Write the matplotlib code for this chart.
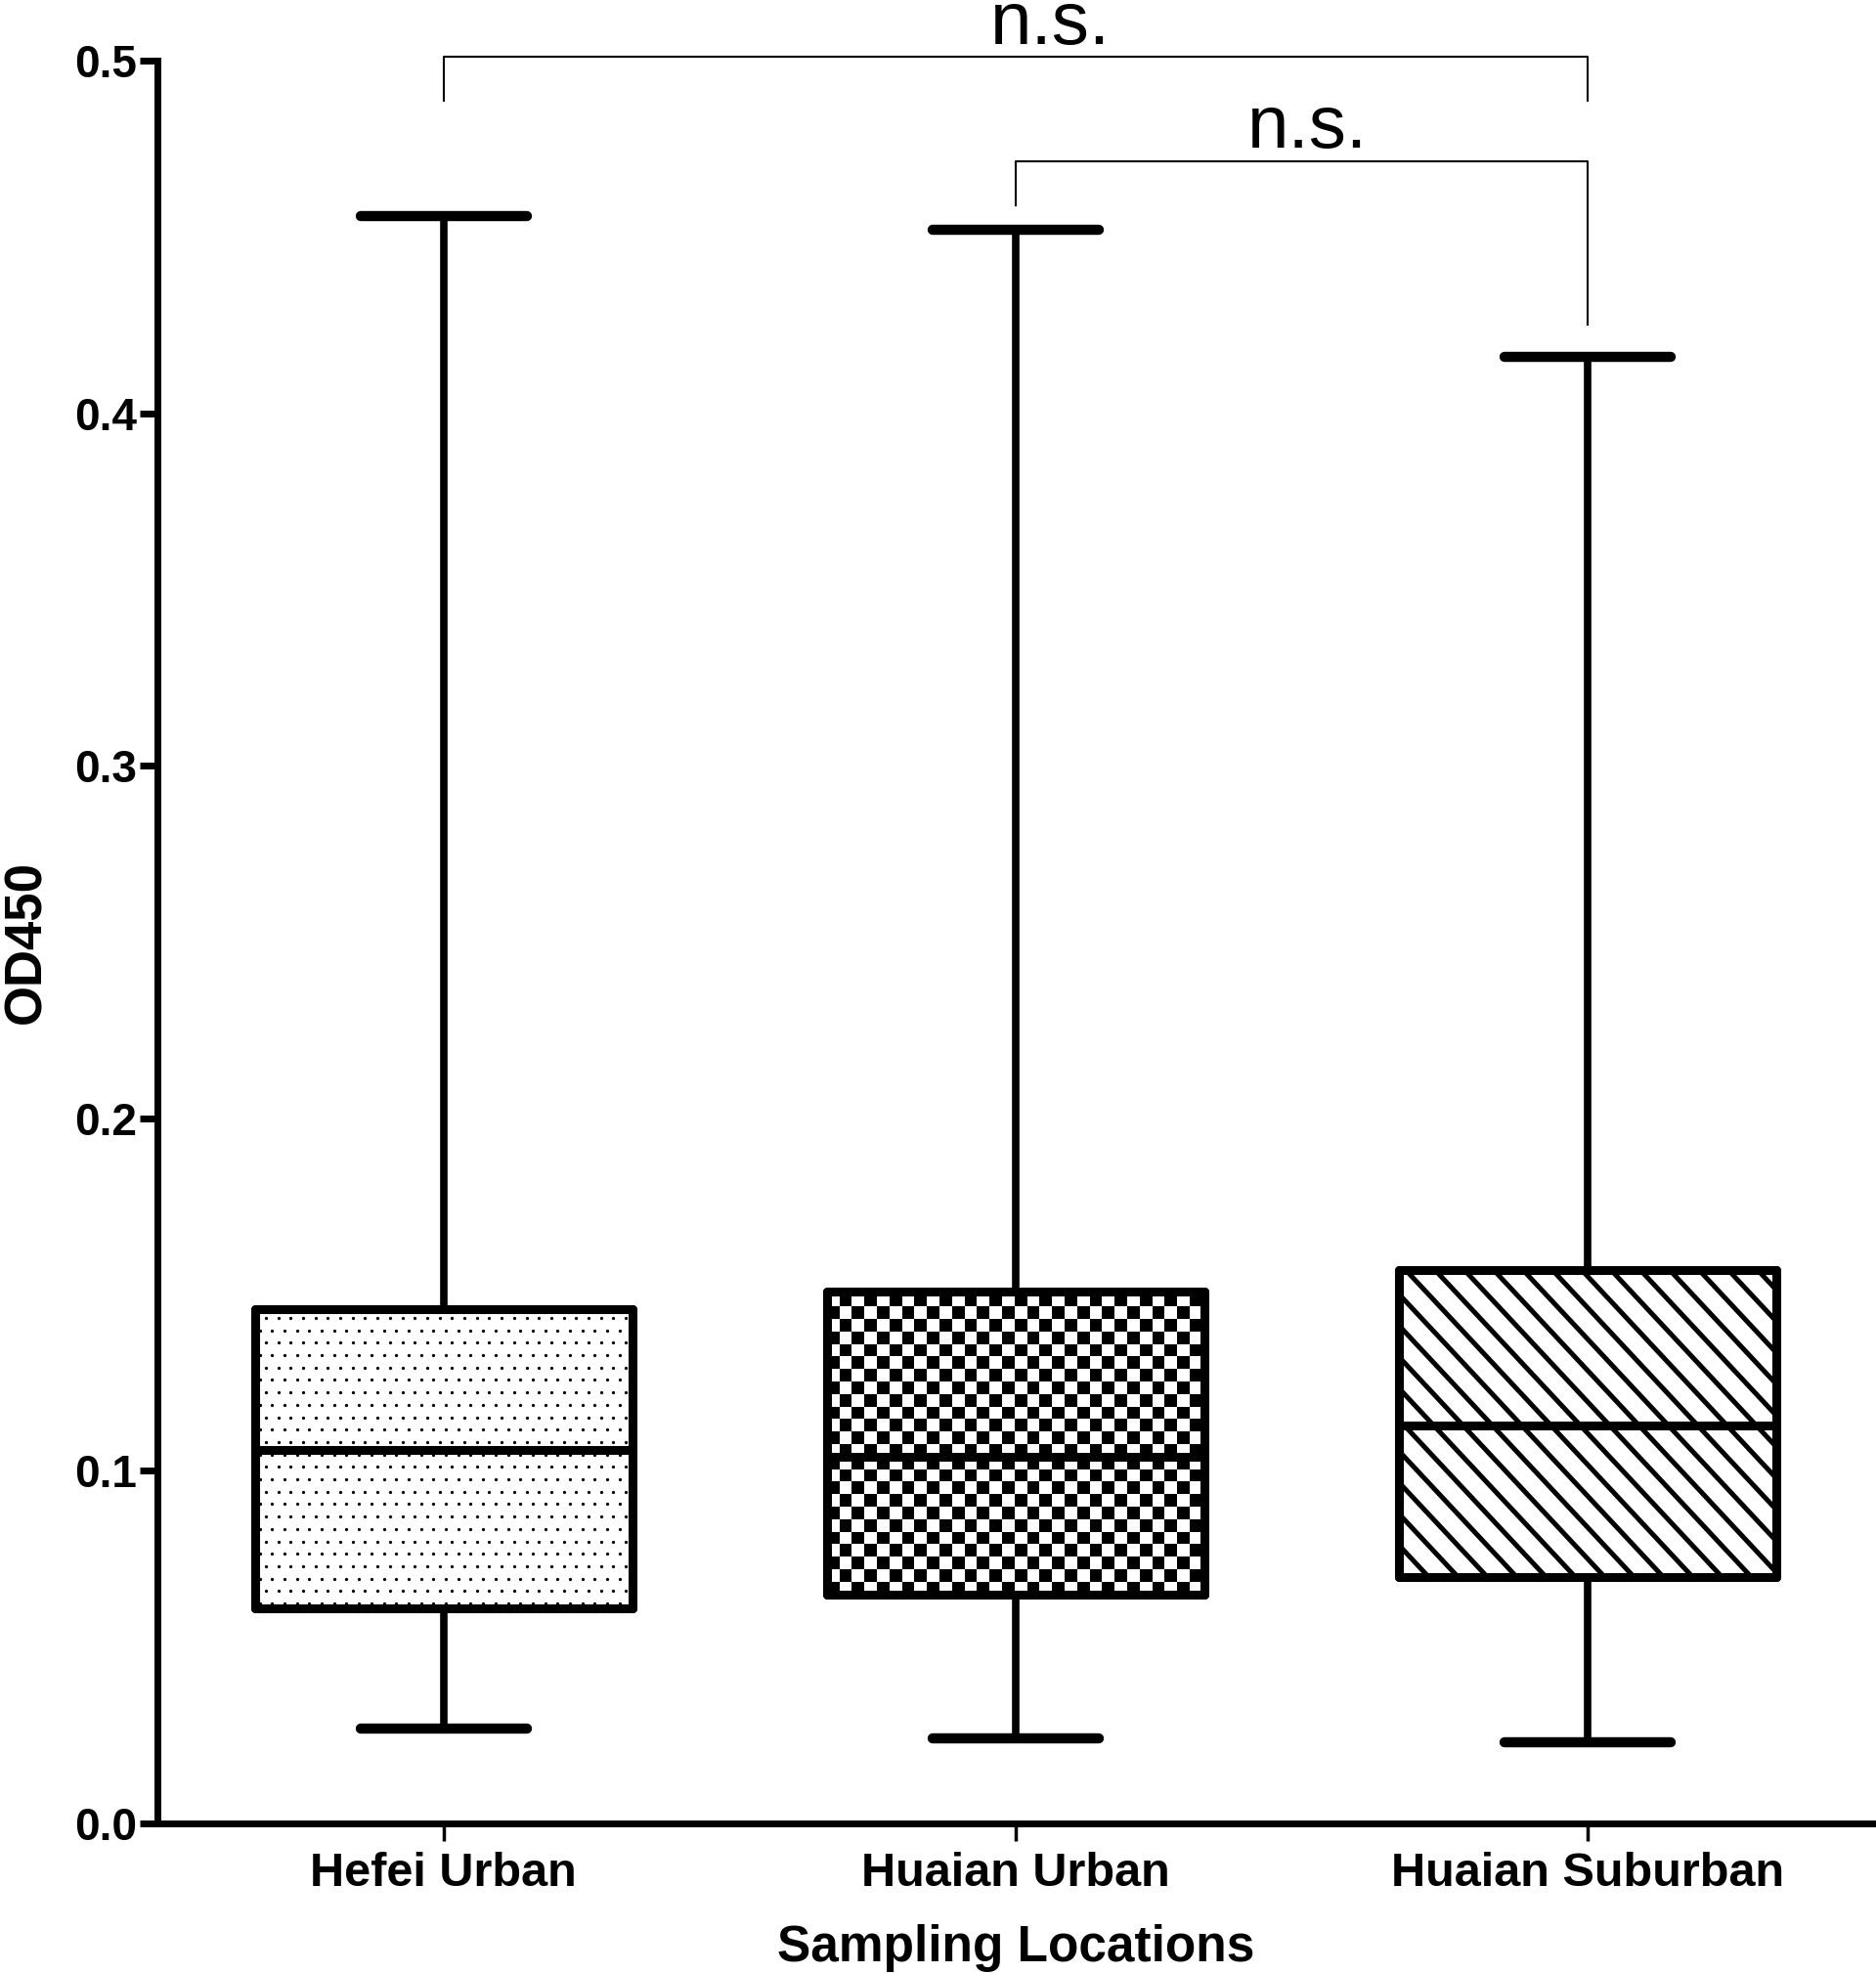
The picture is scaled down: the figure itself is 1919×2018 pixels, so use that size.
import numpy as np
import matplotlib.pyplot as plt
from matplotlib.patches import PathPatch
from matplotlib.collections import LineCollection, PolyCollection
from matplotlib.transforms import IdentityTransform

plt.rcParams['font.family'] = ['Liberation Sans', 'DejaVu Sans']

# data
categories = ['Hefei Urban', 'Huaian Urban', 'Huaian Suburban']
whisker_low = [0.027, 0.024, 0.023]
q1 = [0.061, 0.065, 0.070]
median = [0.106, 0.104, 0.113]
q3 = [0.146, 0.151, 0.157]
whisker_high = [0.456, 0.452, 0.416]

# significance brackets
pairs = [(1, 3), (2, 3)]
pair_labels = ['n.s.', 'n.s.']
bar_y = [0.501, 0.4714]
leg_left = [0.4886, 0.459]
leg_right = [0.4886, 0.425]
label_x = [2.06, 2.51]
label_y = [0.5046, 0.4754]

DPI = 100
fig = plt.figure(figsize=(19.19, 20.18), dpi=DPI)
ax = fig.add_axes([0.0839, 0.0758, 0.915, 0.8935])
ax.set_xlim(0.5, 3.5)
ax.set_ylim(0, 0.5)

positions = np.arange(1, len(categories) + 1)
stats = []
for i, name in enumerate(categories):
    stats.append(dict(label=name, whislo=whisker_low[i], q1=q1[i], med=median[i],
                      q3=q3[i], whishi=whisker_high[i], fliers=[]))

bp = ax.bxp(stats, positions=positions, widths=0.66, capwidths=0.29,
            patch_artist=True, showfliers=False, manage_ticks=False,
            boxprops=dict(facecolor='white', edgecolor='black', linewidth=6.5,
                          joinstyle='round', zorder=2),
            whiskerprops=dict(color='black', linewidth=5.5, zorder=1.5),
            capprops=dict(color='black', linewidth=7.5, solid_capstyle='round', zorder=1.5),
            medianprops=dict(color='black', linewidth=6.5, zorder=4))


def pix_extent(patch):
    pts = patch.get_transform().transform(patch.get_path().vertices)
    return pts[:, 0].min(), pts[:, 0].max(), pts[:, 1].min(), pts[:, 1].max()


boxes = bp['boxes']

# Hefei: staggered dots
x0, x1, y0, y1 = pix_extent(boxes[0])
step = 12.7
xs, ys = [], []
for r, yy in enumerate(np.arange(y0 + 5, y1, step)):
    off = step / 2 if r % 2 else 0
    for xx in np.arange(x0 + 5 + off, x1, step):
        xs.append(xx)
        ys.append(yy)
dots = ax.scatter(xs, ys, s=5.5, c='black', linewidths=0, transform=IdentityTransform(), zorder=2.5)
dots.set_clip_path(boxes[0])

# Huaian Urban: checkerboard
x0, x1, y0, y1 = pix_extent(boxes[1])
sq = 12.8
polys = []
for r, yy in enumerate(np.arange(y0, y1, sq)):
    for c, xx in enumerate(np.arange(x0, x1, sq)):
        if (r + c) % 2 == 0:
            polys.append([(xx, yy), (xx + sq, yy), (xx + sq, yy + sq), (xx, yy + sq)])
checks = PolyCollection(polys, facecolors='black', edgecolors='none', transform=IdentityTransform(), zorder=2.5)
ax.add_collection(checks, autolim=False)
checks.set_clip_path(boxes[1])

# Huaian Suburban: diagonal lines
x0, x1, y0, y1 = pix_extent(boxes[2])
gap = 30.0
slope = 1.07
h = y1 - y0
segs = []
for xs0 in np.arange(x0 - h / slope - gap, x1 + gap, gap):
    segs.append([(xs0, y1), (xs0 + h / slope, y0)])
lines = LineCollection(segs, colors='black', linewidths=3.6, transform=IdentityTransform(), zorder=2.5)
ax.add_collection(lines, autolim=False)
lines.set_clip_path(boxes[2])

# redraw box outlines on top of the fill patterns
for b in boxes:
    ax.add_patch(PathPatch(b.get_path(), transform=b.get_transform(), facecolor='none',
                           edgecolor='black', linewidth=6.5, joinstyle='round', zorder=3))

# brackets
for (a, b), lab, by, ll, lr, tx, ty in zip(pairs, pair_labels, bar_y, leg_left, leg_right, label_x, label_y):
    ax.plot([a, a, b, b], [ll, by, by, lr], color='black', linewidth=1.5, clip_on=False, zorder=5)
    ax.text(tx, ty, lab, ha='center', va='baseline', fontsize=55, clip_on=False)

ax.set_xticks(positions)
ax.set_xticklabels(categories, fontsize=35, fontweight='bold')
yt = np.arange(0, 0.51, 0.1)
ax.set_yticks(yt)
ax.set_yticklabels([f'{v:.1f}' for v in yt], fontsize=33, fontweight='bold')
ax.tick_params(axis='y', length=13, width=5, pad=2)
ax.tick_params(axis='x', length=13, width=2.5, pad=8)

ax.spines['top'].set_visible(False)
ax.spines['right'].set_visible(False)
ax.spines['left'].set_linewidth(5)
ax.spines['bottom'].set_linewidth(5)

ax.set_ylabel('OD450', fontsize=38, fontweight='bold')
ax.yaxis.set_label_coords(-0.062, 0.5)
ax.set_xlabel('Sampling Locations', fontsize=37, fontweight='bold')
ax.xaxis.set_label_coords(0.5, -0.057)

ax.set_xlim(0.5, 3.5)
ax.set_ylim(0, 0.5)

fig.savefig('out.png', dpi=DPI)
